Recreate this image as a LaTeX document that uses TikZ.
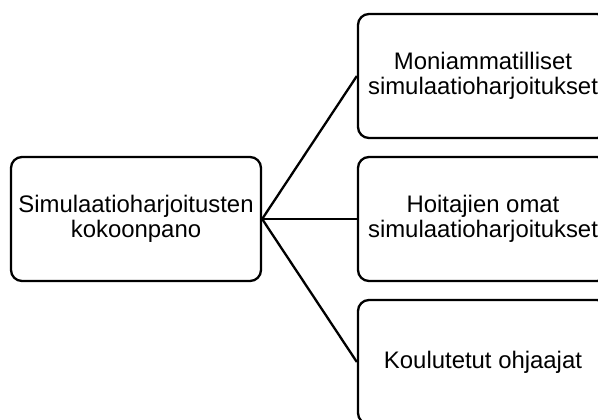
\documentclass[tikz,border=0pt]{standalone}
\usepackage{fontspec}
\setmainfont{Liberation Sans}
\begin{document}
\begin{tikzpicture}[x=1bp,y=1bp,
  boxnode/.style={draw=black, line width=2.3bp, rounded corners=11bp,
    minimum width=250bp, minimum height=124bp, inner sep=0pt,
    align=center, font=\fontsize{24}{25.5}\selectfont},
  link/.style={draw=black, line width=2.3bp}]
  \useasboundingbox (0,0) rectangle (598,419);
  \clip (0,0) rectangle (598,419);
  % root and the three branches
  \node[boxnode] (root) at (136,200) {Simulaatioharjoitusten\\kokoonpano};
  \node[boxnode] (top) at (483,343) {Moniammatilliset\\simulaatioharjoitukset};
  \node[boxnode] (mid) at (483,200) {Hoitajien omat\\simulaatioharjoitukset};
  \node[boxnode] (bot) at (483,57) {Koulutetut ohjaajat};
  \draw[link] (root.east) -- (top.west);
  \draw[link] (root.east) -- (mid.west);
  \draw[link] (root.east) -- (bot.west);
\end{tikzpicture}
\end{document}
